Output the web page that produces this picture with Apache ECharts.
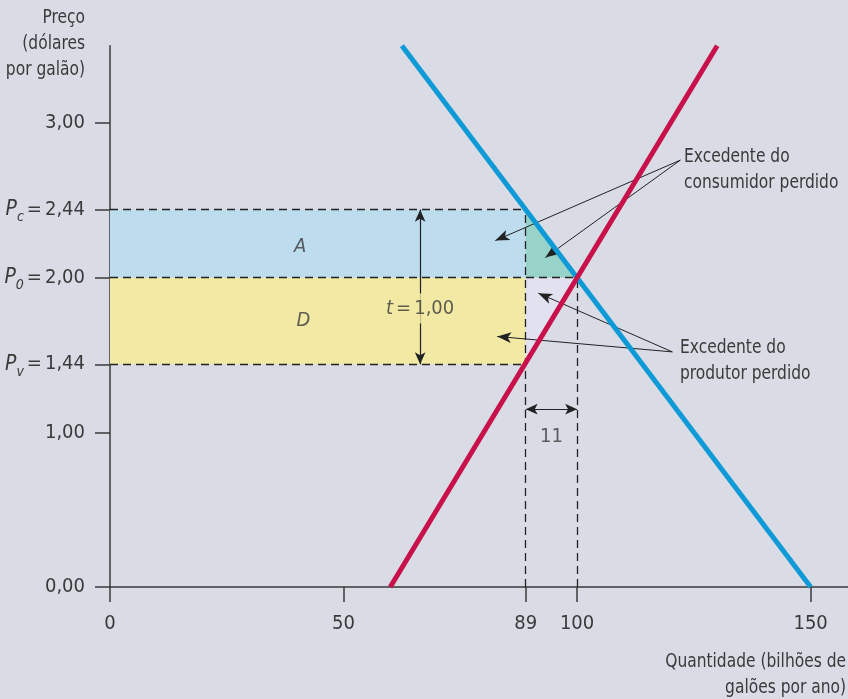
<!DOCTYPE html>
<html>
<head>
<meta charset="utf-8">
<script src="https://cdn.jsdelivr.net/npm/echarts@6/dist/echarts.min.js"></script>
<style>
html,body{margin:0;padding:0;background:#d9dce5;}
#chart{width:848px;height:699px;}
</style>
</head>
<body>
<div id="chart"></div>
<script>
// ---- data ----
const xTicks = [0, 50, 89, 100, 150];
const yTicks = [0, 1, 1.44, 2, 2.44, 3];
const yTickLabels = ['0,00', '1,00', '{p|P}{s|v}{e|=}{n|1,44}', '{p|P}{s|0}{e|=}{n|2,00}', '{p|P}{s|c}{e|=}{n|2,44}', '3,00'];
const demand = [[62.5, 3.5], [150, 0]];
const supply = [[60, 0], [130, 3.5]];
const areaA = [[0, 2], [89, 2], [89, 2.44], [0, 2.44]];
const areaD = [[0, 1.44], [89, 1.44], [89, 2], [0, 2]];
const consumerLoss = [[89, 2], [100, 2], [89, 2.44]];
const producerLoss = [[89, 2], [100, 2], [89, 1.44]];
const dashedSegments = [
  [[0, 2.44], [89, 2.44]],
  [[0, 2], [100, 2]],
  [[0, 1.44], [89, 1.44]],
  [[89, 0], [89, 2.44]],
  [[100, 0], [100, 2]]
];
const taxArrow = [[66.4, 2.44], [66.4, 1.44]];
const qtyArrow = [[89, 1.15], [100, 1.15]];
const consumerArrows = [
  [[122.1, 2.76], [82.5, 2.24]],
  [[122.1, 2.76], [93.2, 2.13]]
];
const producerArrows = [
  [[120.4, 1.52], [91.7, 1.90]],
  [[120.4, 1.52], [82.9, 1.62]]
];
const regionLabels = [[40.7, 2.2, 'A'], [41.4, 1.72, 'D']];
const taxLabel = [[66.4, 1.80, '{t|t}{e|=}{n|1,00}']];
const qtyLabel = [[94.5, 0.97, '11']];

// ---- style ----
const FONT = '"DejaVu Sans Condensed", "Liberation Sans Narrow", sans-serif';
const TXT = '#3a3a3a';
const AX = '#3a3a3a';
const FS = 20;
const SX = 0.86;

const chart = echarts.init(document.getElementById('chart'), null, {renderer: 'canvas'});

function polySeries(points, color) {
  return {
    type: 'custom',
    silent: true,
    z: 1,
    data: [0],
    renderItem: function (params, api) {
      return {
        type: 'polygon',
        shape: {points: points.map(p => api.coord(p))},
        style: {fill: color}
      };
    }
  };
}

function segMarkLine(segs, symbols, lineStyle, symbolSize) {
  return {
    type: 'line',
    data: [],
    silent: true,
    z: 3,
    markLine: {
      silent: true,
      animation: false,
      symbol: symbols,
      symbolSize: symbolSize || [9, 13],
      label: {show: false},
      lineStyle: lineStyle,
      emphasis: {disabled: true},
      data: segs.map(s => [{coord: s[0]}, {coord: s[1]}])
    }
  };
}

const richBase = {
  p: {fontFamily: FONT, fontSize: FS + 1, fontStyle: 'italic', color: TXT},
  s: {fontFamily: FONT, fontSize: 14, fontStyle: 'italic', color: TXT, padding: [16, 0, 0, 0]},
  e: {fontFamily: FONT, fontSize: FS, color: TXT, padding: [0, 3, 0, 3]},
  t: {fontFamily: FONT, fontSize: FS, fontStyle: 'italic', color: TXT},
  n: {fontFamily: FONT, fontSize: FS, color: TXT}
};

function freeText(text, x, y, align) {
  return {
    type: 'text', x: x, y: y, silent: true,
    scaleX: SX, originX: 0, originY: 0,
    style: {text: text, fill: TXT, font: FS + 'px ' + FONT, align: align, verticalAlign: 'top', lineHeight: 26}
  };
}

const option = {
  backgroundColor: '#d9dce5',
  animation: false,
  grid: {left: 110, right: 0, top: 45.7, bottom: 112, containLabel: false},
  xAxis: {
    type: 'value', min: 0, max: 158,
    splitLine: {show: false},
    axisLine: {lineStyle: {color: AX, width: 1.5}},
    axisTick: {customValues: xTicks, length: 15, lineStyle: {color: AX, width: 1.5}},
    axisLabel: {customValues: xTicks, margin: 27, color: TXT, fontFamily: FONT, fontSize: FS,
      formatter: v => String(v)}
  },
  yAxis: {
    type: 'value', min: 0, max: 3.5,
    splitLine: {show: false},
    axisLine: {lineStyle: {color: AX, width: 1.5}},
    axisTick: {customValues: yTicks, length: 15, lineStyle: {color: AX, width: 1.5}},
    axisLabel: {
      customValues: yTicks, margin: 25, color: TXT, fontFamily: FONT, fontSize: FS,
      formatter: function (v) {
        const i = yTicks.findIndex(t => Math.abs(t - v) < 1e-6);
        return i >= 0 ? yTickLabels[i] : '';
      },
      rich: richBase
    }
  },
  series: [
    polySeries(areaA, '#bddcee'),
    polySeries(areaD, '#f1e9a4'),
    polySeries(consumerLoss, '#98d3c9'),
    polySeries(producerLoss, '#e2e1f0'),
    segMarkLine(dashedSegments, ['none', 'none'], {color: '#222', width: 1.3, type: [8, 5]}),
    {
      type: 'line', data: demand, symbol: 'none', z: 5, silent: true,
      lineStyle: {color: '#0e9ad6', width: 5, cap: 'butt'}
    },
    {
      type: 'line', data: supply, symbol: 'none', z: 6, silent: true,
      lineStyle: {color: '#c8114b', width: 5, cap: 'butt'}
    },
    segMarkLine([taxArrow, qtyArrow], ['arrow', 'arrow'], {color: '#222', width: 1.2, type: 'solid'}, [8, 12]),
    segMarkLine(consumerArrows.concat(producerArrows), ['none', 'arrow'], {color: '#222', width: 1, type: 'solid'}, [8, 14]),
    {
      type: 'scatter', symbolSize: 0, z: 8, silent: true,
      data: regionLabels,
      label: {show: true, position: 'inside', formatter: p => p.data[2],
        fontFamily: FONT, fontSize: FS, fontStyle: 'italic', color: TXT}
    },
    {
      type: 'scatter', symbolSize: 0, z: 8, silent: true,
      data: taxLabel,
      label: {show: true, position: 'inside', formatter: p => p.data[2],
        backgroundColor: '#f1e9a4', padding: [5, 2, 5, 2],
        rich: richBase}
    },
    {
      type: 'scatter', symbolSize: 0, z: 8, silent: true,
      data: qtyLabel,
      label: {show: true, position: 'inside', formatter: p => p.data[2],
        fontFamily: FONT, fontSize: FS, color: TXT}
    }
  ],
  graphic: [
    freeText('Preço\n(dólares\npor galão)', 85, 5, 'right'),
    freeText('Excedente do\nconsumidor perdido', 684, 144, 'left'),
    freeText('Excedente do\nprodutor perdido', 680, 335, 'left'),
    freeText('Quantidade (bilhões de\ngalões por ano)', 846, 649, 'right')
  ]
};
chart.setOption(option);
</script>
</body>
</html>
